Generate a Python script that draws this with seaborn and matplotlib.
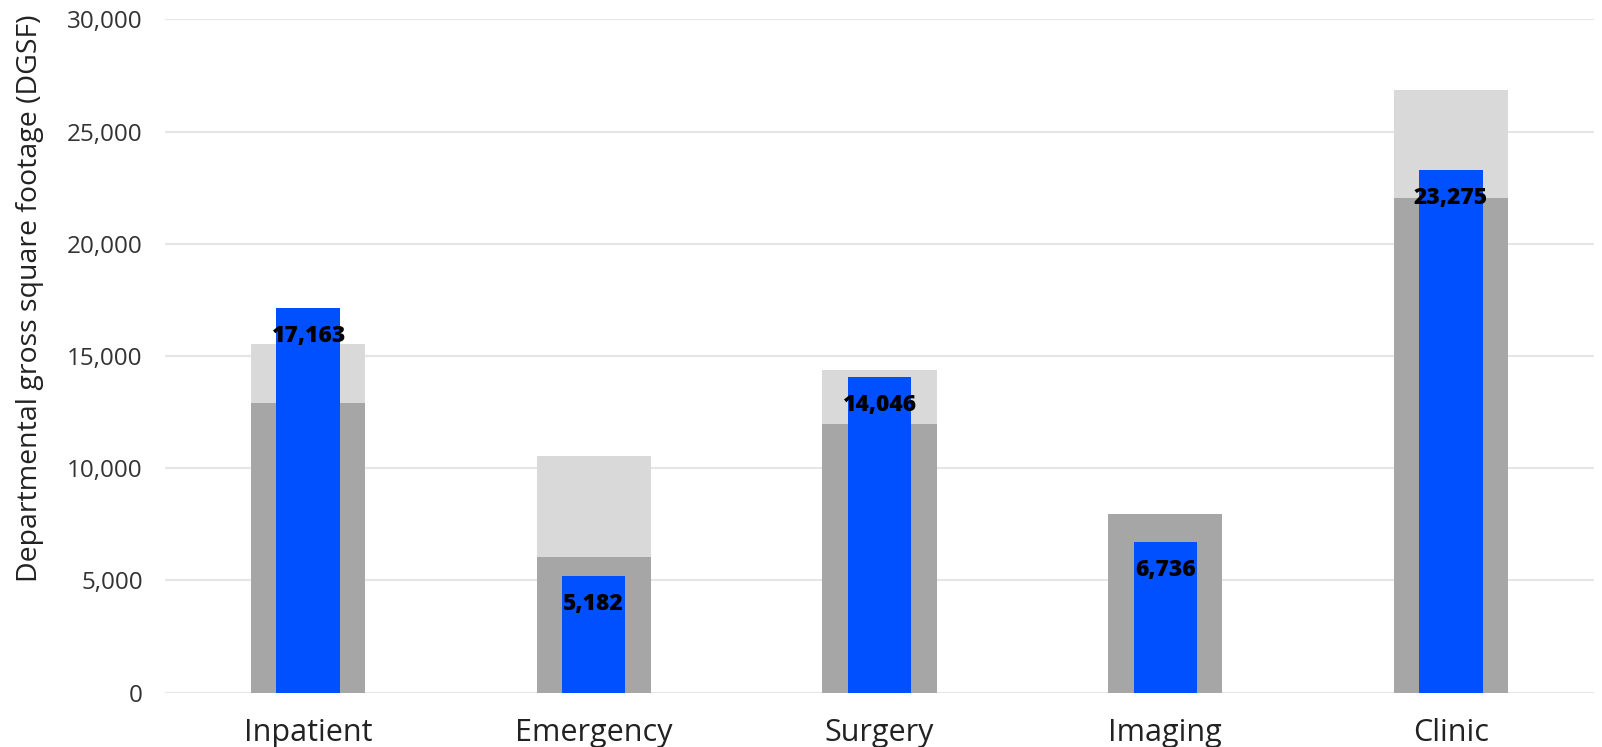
import matplotlib
matplotlib.use("Agg")
import matplotlib.pyplot as plt
import seaborn as sns
import pandas as pd
from matplotlib.ticker import FuncFormatter

# Departmental gross square footage by department
categories = ["Inpatient", "Emergency", "Surgery", "Imaging", "Clinic"]
benchmark_low = [12925, 6050, 11975, 7980, 22050]
benchmark_high = [15540, 10550, 14380, 7980, 26860]
actual_dgsf = [17163, 5182, 14046, 6736, 23275]
y_ticks = [0, 5000, 10000, 15000, 20000, 25000, 30000]

df = pd.DataFrame({
    "department": categories,
    "low": benchmark_low,
    "high": benchmark_high,
    "actual": actual_dgsf,
})

sns.set_theme(style="white")
plt.rcParams["font.family"] = ["Open Sans", "DejaVu Sans"]

fig = plt.figure(figsize=(16.02, 7.47), dpi=100)
ax = fig.add_axes([165 / 1602, 1 - 692.7 / 747, (1594 - 165) / 1602, (692.7 - 19.4) / 747])

# benchmark range: upper part light, lower part dark
sns.barplot(data=df, x="department", y="high", color="#D9D9D9", width=0.4,
            saturation=1, linewidth=0, ax=ax, zorder=2)
sns.barplot(data=df, x="department", y="low", color="#A6A6A6", width=0.4,
            saturation=1, linewidth=0, ax=ax, zorder=3)
# actual DGSF
sns.barplot(data=df, x="department", y="actual", color="#0050FF", width=0.222,
            saturation=1, linewidth=0, ax=ax, zorder=4)

for i, v in enumerate(actual_dgsf):
    ax.annotate(f"{v:,}", (i, v), xytext=(0, -28), textcoords="offset pixels",
                ha="center", va="center", fontsize=16.5, fontweight=800,
                color="#000000", zorder=5)

ax.set_ylim(0, 30000)
ax.set_xlim(-0.5, 4.5)
ax.set_yticks(y_ticks)
ax.yaxis.set_major_formatter(FuncFormatter(lambda v, p: f"{int(v):,}"))
ax.yaxis.grid(True, color="#E6E6E6", linewidth=1.5, zorder=0)
ax.set_axisbelow(True)
for s in ax.spines.values():
    s.set_visible(False)

ax.tick_params(axis="y", length=0, pad=16, labelsize=17.5, labelcolor="#333333")
ax.tick_params(axis="x", length=0, pad=18, labelsize=22, labelcolor="#222222")
ax.set_xlabel("")
ax.set_ylabel("Departmental gross square footage (DGSF)", fontsize=20.5,
              color="#222222")
ax.yaxis.set_label_coords(-0.085, 0.586)

fig.savefig("out.png", dpi=100)
